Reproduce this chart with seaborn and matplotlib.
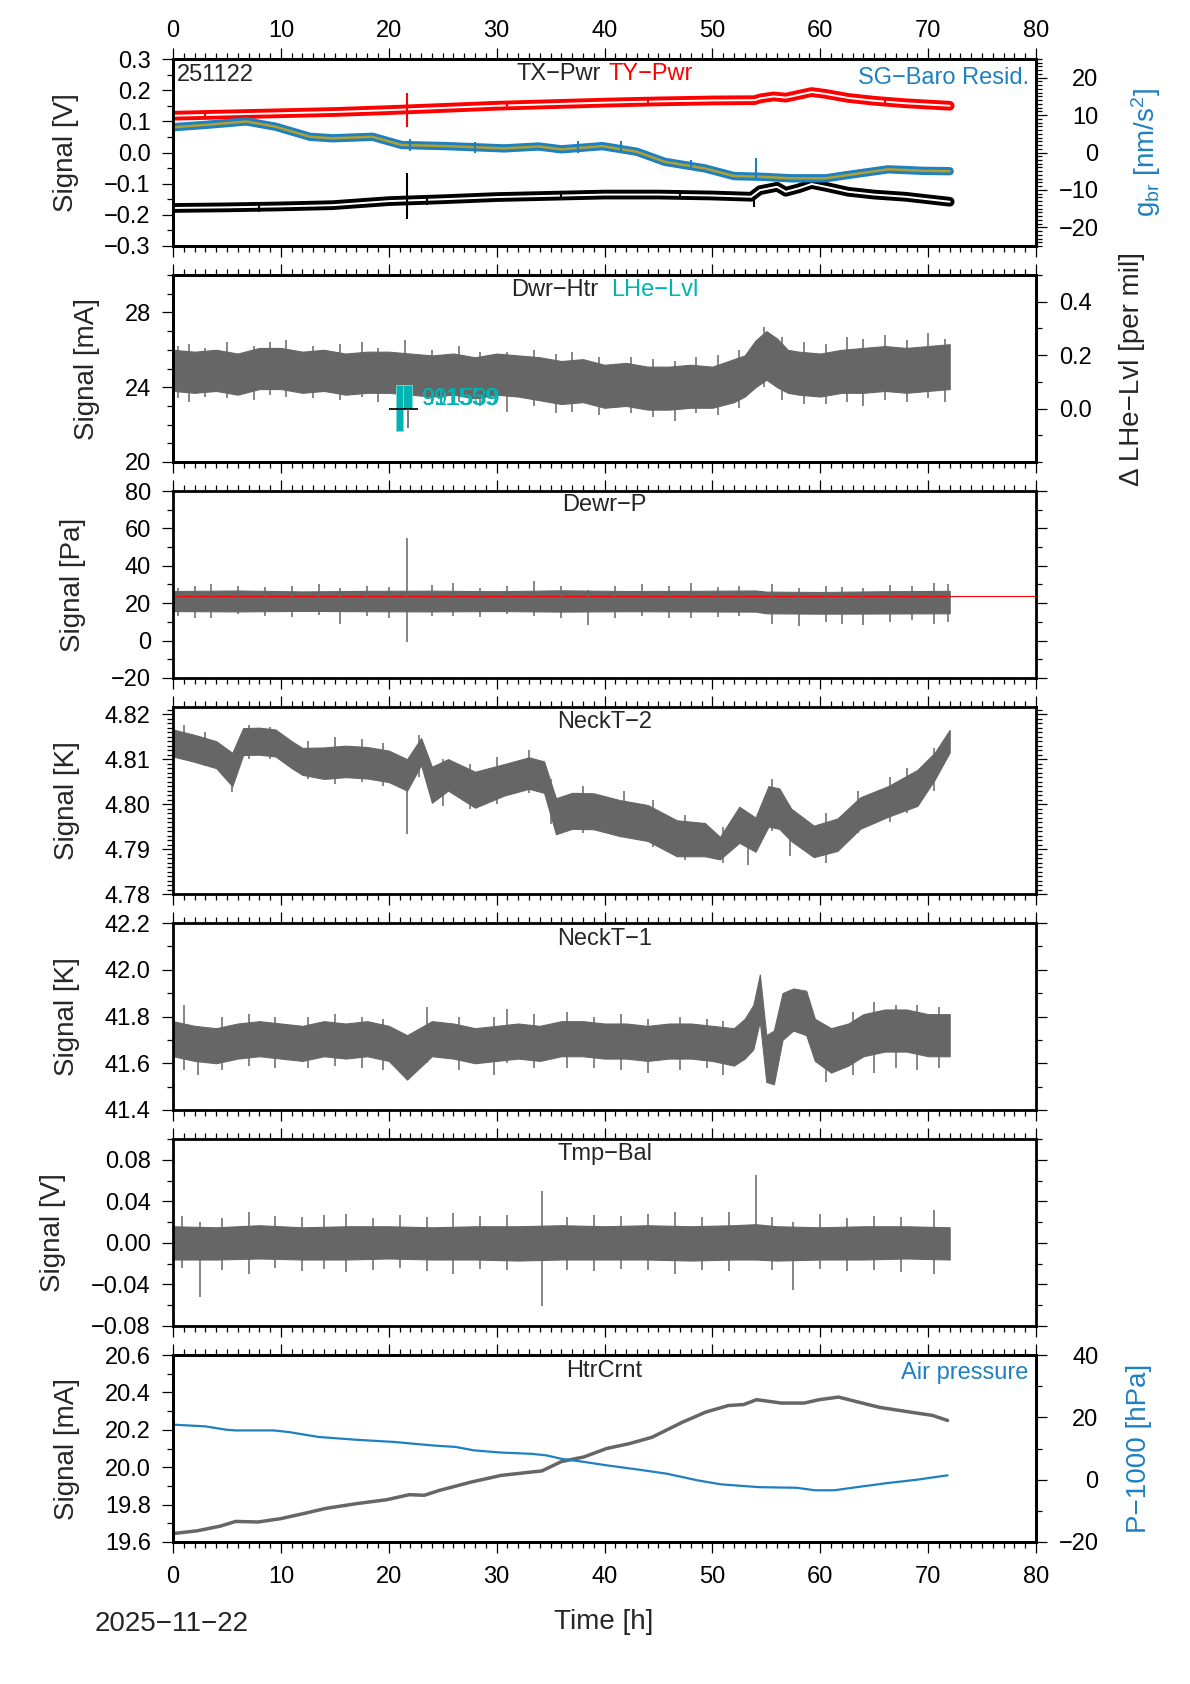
import matplotlib
matplotlib.use("Agg")
import matplotlib.pyplot as plt
import seaborn as sns
from matplotlib.ticker import MultipleLocator, FixedLocator, FuncFormatter

# ---- panel 1: TX/TY power [V] and SG-Baro residual [nm/s^2] ----
tx_t = [0, 5, 10, 14.8, 20, 25, 30, 35, 40, 45, 50, 53.6, 54.4, 56, 56.8, 58, 59.2, 60.5, 62.6, 65, 67.9, 72]
tx_v = [-0.178, -0.176, -0.173, -0.169, -0.156, -0.150, -0.143, -0.139, -0.135, -0.135, -0.138, -0.142,
        -0.121, -0.110, -0.126, -0.115, -0.101, -0.110, -0.126, -0.135, -0.142, -0.158]
ty_t = [0, 5, 10, 15, 20, 25, 30, 35, 40, 45, 50, 53.9, 54.5, 55.7, 56.8, 58, 59.2, 60.5, 62.6, 65, 67.9, 72]
ty_v = [0.118, 0.122, 0.126, 0.130, 0.136, 0.143, 0.150, 0.155, 0.160, 0.164, 0.167, 0.168, 0.174, 0.180,
        0.176, 0.185, 0.194, 0.188, 0.175, 0.166, 0.158, 0.150]
sg_t = [0, 3.1, 6.8, 9.5, 12.7, 14.8, 18.5, 21.2, 25.4, 30.7, 33.9, 36, 39.8, 43, 45.6, 49.3, 52, 54.6,
        57.3, 60.5, 62.6, 66.3, 69.5, 72]
sg_v = [6.75, 7.4, 8.3, 6.9, 4.2, 3.8, 4.2, 2.0, 1.7, 1.1, 1.6, 0.85, 1.7, 0.2, -2.5, -4.25, -6.3, -6.5,
        -6.9, -6.9, -6.0, -4.5, -4.9, -5.0]
tx_spk = [(21.7, -0.212, -0.067), (53.9, -0.175, -0.140), (8.0, -0.190, -0.165), (23.5, -0.168, -0.142),
          (36.0, -0.150, -0.125), (47.0, -0.148, -0.124)]
ty_spk = [(21.7, 0.081, 0.190), (3.0, 0.106, 0.133), (31.0, 0.139, 0.164), (44.0, 0.151, 0.177),
          (66.0, 0.150, 0.176)]
sg_spk = [(54.0, -7.0, -1.6), (37.5, 0.0, 3.2), (41.5, 0.2, 3.0), (22.0, 0.5, 3.5), (48.0, -4.8, -1.9),
          (28.0, 0.0, 2.8)]

# ---- panel 2: Dewar heater [mA], LHe level [per mil] ----
htr2_t = [0, 2, 4, 6, 8, 10, 12, 14, 16, 18, 20, 22, 24, 26, 28, 30, 32, 34, 36, 38, 40, 42, 44, 46, 48,
          50, 52, 53, 54, 55, 56, 57, 58, 60, 62, 64, 66, 68, 70, 72]
htr2_hi = [26.0, 25.9, 26.0, 25.8, 26.1, 26.1, 25.9, 26.0, 25.8, 25.9, 25.9, 25.8, 25.7, 25.8, 25.6, 25.8,
           25.7, 25.6, 25.4, 25.5, 25.2, 25.3, 25.1, 25.1, 25.2, 25.1, 25.5, 25.7, 26.5, 27.0, 26.6, 26.0,
           25.9, 25.8, 26.0, 26.1, 26.2, 26.1, 26.2, 26.3]
htr2_lo = [23.8, 23.7, 23.8, 23.6, 23.9, 23.9, 23.7, 23.8, 23.6, 23.7, 23.7, 23.6, 23.5, 23.6, 23.4, 23.6,
           23.5, 23.3, 23.1, 23.2, 22.9, 23.0, 22.8, 22.8, 22.9, 22.9, 23.2, 23.5, 24.0, 24.4, 24.0, 23.7,
           23.6, 23.5, 23.7, 23.7, 23.8, 23.7, 23.8, 23.9]
htr2_spk = [(0.5, 23.4, 26.2), (1.5, 23.2, 26.3), (3.0, 23.5, 26.1), (5.0, 23.4, 26.4), (7.5, 23.3, 26.2),
            (9.0, 23.6, 26.4), (10.5, 23.5, 26.5), (13.0, 23.4, 26.2), (15.5, 23.3, 26.3), (17.5, 23.5, 26.4),
            (19.0, 23.2, 26.1), (21.5, 23.3, 26.5), (24.0, 23.1, 26.0), (26.5, 23.2, 26.2), (28.5, 23.0, 25.9),
            (31.0, 22.7, 25.9), (33.5, 23.0, 26.0), (35.5, 22.6, 25.8), (37.0, 22.7, 25.9), (39.5, 22.5, 25.6),
            (42.5, 22.6, 25.6), (44.5, 22.4, 25.5), (46.5, 22.2, 25.4), (48.5, 22.6, 25.6), (50.5, 22.5, 25.7),
            (52.5, 22.9, 26.0), (54.8, 24.0, 27.2), (56.5, 23.3, 26.7), (58.5, 23.1, 26.4), (60.5, 23.1, 26.3),
            (62.5, 23.2, 26.7), (64.0, 23.0, 26.6), (66.0, 23.3, 26.8), (68.0, 23.2, 26.5), (70.0, 23.4, 26.9),
            (71.6, 23.2, 26.6)]
lhe_x = [20.98, 21.72]
lhe_w = [0.68, 0.80]
lhe_lo = [-0.085, 0.0]
lhe_hi = [0.09, 0.09]
lhe_labels = ["991539", "911559"]

# ---- panel 3: Dewar pressure [Pa] ----
dp_t = [0, 6, 12, 18, 24, 30, 36, 42, 48, 54, 55, 60, 66, 72]
dp_hi = [26.5, 26.8, 26.3, 26.6, 26.7, 26.4, 26.9, 26.5, 26.6, 26.8, 26.2, 26.0, 26.4, 26.6]
dp_lo = [15.8, 15.6, 15.9, 15.7, 15.6, 15.8, 15.5, 15.7, 15.6, 15.5, 14.6, 14.4, 14.5, 14.6]
dp_spk = [(0.5, 13, 28), (2.0, 12, 29), (3.5, 12, 30), (6.0, 14, 29), (8.5, 13, 28.5), (11.0, 12.5, 29),
          (13.5, 13.5, 30), (15.5, 9, 28), (18.0, 13, 29), (20.0, 12, 28.5), (21.7, -1, 55), (24.0, 13, 29.5),
          (26.0, 13, 31), (28.5, 12.5, 28), (31.0, 14, 29), (33.5, 13, 32), (36.0, 12, 29), (38.5, 8.5, 27),
          (41.0, 12, 29), (43.5, 13, 30), (46.0, 12, 29), (48.0, 12, 31), (50.5, 12.5, 28.5), (52.5, 13, 29),
          (55.5, 9, 30), (58.0, 8, 28), (60.5, 10, 29), (62.0, 9, 28.5), (64.0, 8.5, 28), (66.5, 10, 29.5),
          (68.5, 11, 29), (70.5, 9, 31), (71.8, 10, 30)]
dp_set_t = [0, 80]
dp_set_v = [23.6, 23.6]

# ---- panel 4: neck temperature 2 [K] ----
nk2_t = [0, 2, 4, 5.5, 6.5, 8, 9.5, 11, 12, 14, 16, 18, 20, 21.7, 23, 24, 25.5, 28, 30.7, 33, 34.4, 35.5,
         37, 39, 41.4, 44, 46.7, 49.3, 50.7, 52.5, 54, 55.2, 56.2, 57.3, 59.4, 61.6, 63.7, 66.3, 69, 70.6, 72]
nk2_hi = [4.8166, 4.8154, 4.8140, 4.8114, 4.8169, 4.8170, 4.8166, 4.8140, 4.8125, 4.8126, 4.8130, 4.8127,
          4.8119, 4.8100, 4.8147, 4.8083, 4.8100, 4.8072, 4.8089, 4.8104, 4.8095, 4.8013, 4.8025, 4.8024,
          4.8009, 4.7998, 4.7964, 4.7958, 4.7927, 4.7994, 4.7970, 4.8040, 4.8035, 4.7990, 4.7952, 4.7968,
          4.8015, 4.8040, 4.8076, 4.8114, 4.8165]
nk2_lo = [4.8106, 4.8094, 4.8080, 4.8040, 4.8109, 4.8110, 4.8106, 4.8080, 4.8065, 4.8056, 4.8060, 4.8057,
          4.8049, 4.8030, 4.8087, 4.8003, 4.8030, 4.7992, 4.8019, 4.8034, 4.8025, 4.7933, 4.7945, 4.7944,
          4.7929, 4.7918, 4.7884, 4.7884, 4.7877, 4.7914, 4.7894, 4.7950, 4.7945, 4.7918, 4.7882, 4.7896,
          4.7945, 4.7972, 4.7996, 4.8054, 4.8115]
nk2_spk = [(1.0, 4.8100, 4.8175), (3.0, 4.8085, 4.8160), (5.5, 4.8028, 4.8110), (7.0, 4.8100, 4.8175),
           (9.0, 4.8100, 4.8172), (12.5, 4.8055, 4.8140), (15.0, 4.8045, 4.8150), (17.5, 4.8050, 4.8145),
           (19.5, 4.8040, 4.8135), (21.7, 4.7934, 4.8070), (22.8, 4.8060, 4.8153), (25.0, 4.7995, 4.8100),
           (27.5, 4.7990, 4.8090), (30.0, 4.8000, 4.8105), (33.0, 4.8025, 4.8120), (35.0, 4.7955, 4.8055),
           (38.0, 4.7935, 4.8040), (41.8, 4.7930, 4.8030), (44.5, 4.7905, 4.8010), (47.5, 4.7875, 4.7975),
           (51.0, 4.7870, 4.7950), (53.3, 4.7865, 4.7960), (55.5, 4.7940, 4.8055), (57.2, 4.7885, 4.7995),
           (60.5, 4.7870, 4.7980), (63.5, 4.7935, 4.8030), (66.5, 4.7960, 4.8060), (68.0, 4.7980, 4.8080),
           (70.5, 4.8030, 4.8125)]

# ---- panel 5: neck temperature 1 [K] ----
nk1_t = [0, 2, 4, 6, 8, 10, 12, 14, 16, 18, 20, 21.7, 24, 26, 28, 30, 32, 34, 36, 38, 40, 42, 44, 46, 48,
         50, 52, 53, 53.8, 54.4, 55, 55.7, 56.5, 57.5, 58.7, 59.5, 61, 62.6, 64, 66, 68, 70, 72]
nk1_hi = [41.78, 41.76, 41.75, 41.77, 41.78, 41.77, 41.76, 41.78, 41.77, 41.78, 41.76, 41.72, 41.78, 41.77,
          41.75, 41.76, 41.77, 41.76, 41.78, 41.78, 41.77, 41.77, 41.76, 41.77, 41.77, 41.76, 41.75, 41.79,
          41.85, 41.98, 41.72, 41.74, 41.90, 41.92, 41.91, 41.79, 41.75, 41.77, 41.81, 41.83, 41.83, 41.81,
          41.81]
nk1_lo = [41.63, 41.61, 41.60, 41.62, 41.63, 41.62, 41.61, 41.63, 41.62, 41.63, 41.61, 41.53, 41.63, 41.62,
          41.60, 41.61, 41.62, 41.61, 41.63, 41.63, 41.62, 41.62, 41.61, 41.62, 41.62, 41.61, 41.59, 41.62,
          41.66, 41.78, 41.52, 41.51, 41.70, 41.74, 41.72, 41.61, 41.56, 41.59, 41.63, 41.65, 41.65, 41.63,
          41.63]
nk1_spk = [(1.0, 41.57, 41.85), (2.3, 41.55, 41.76), (4.5, 41.57, 41.80), (7.0, 41.59, 41.81),
           (9.5, 41.58, 41.80), (12.5, 41.58, 41.80), (15.0, 41.59, 41.81), (17.5, 41.58, 41.80),
           (19.5, 41.57, 41.79), (23.5, 41.60, 41.84), (26.5, 41.57, 41.80), (29.8, 41.55, 41.80),
           (31.0, 41.60, 41.83), (33.5, 41.58, 41.81), (36.5, 41.58, 41.82), (39.0, 41.58, 41.80),
           (41.5, 41.57, 41.81), (44.0, 41.56, 41.79), (47.0, 41.57, 41.80), (49.5, 41.58, 41.79),
           (51.0, 41.55, 41.78), (60.5, 41.52, 41.72), (63.0, 41.55, 41.82), (65.0, 41.56, 41.86),
           (67.0, 41.58, 41.85), (69.0, 41.57, 41.85), (71.0, 41.58, 41.84)]

# ---- panel 6: balance temperature [V] ----
tb_t = [0, 4, 8, 12, 16, 20, 24, 28, 32, 36, 40, 44, 48, 52, 54, 56, 60, 64, 68, 72]
tb_hi = [0.016, 0.015, 0.017, 0.015, 0.016, 0.016, 0.015, 0.016, 0.016, 0.017, 0.016, 0.017, 0.016, 0.017,
         0.018, 0.016, 0.015, 0.016, 0.016, 0.015]
tb_lo = [-0.016, -0.016, -0.015, -0.016, -0.016, -0.015, -0.016, -0.016, -0.017, -0.016, -0.016, -0.016,
         -0.017, -0.016, -0.016, -0.017, -0.016, -0.016, -0.015, -0.016]
tb_spk = [(0.8, -0.024, 0.026), (2.5, -0.052, 0.020), (4.5, -0.026, 0.024), (7.0, -0.030, 0.030),
          (9.5, -0.024, 0.026), (12.0, -0.027, 0.025), (14.0, -0.025, 0.027), (16.0, -0.028, 0.028),
          (18.5, -0.026, 0.024), (21.0, -0.024, 0.027), (23.5, -0.027, 0.025), (26.0, -0.030, 0.029),
          (28.5, -0.025, 0.026), (31.0, -0.026, 0.027), (34.2, -0.061, 0.050), (36.5, -0.026, 0.025),
          (39.0, -0.027, 0.027), (41.5, -0.025, 0.026), (44.0, -0.026, 0.028), (46.5, -0.030, 0.030),
          (49.0, -0.026, 0.025), (51.5, -0.027, 0.030), (54.0, -0.012, 0.065), (55.5, -0.026, 0.025),
          (57.5, -0.045, 0.020), (60.0, -0.025, 0.028), (62.5, -0.027, 0.024), (65.0, -0.026, 0.026),
          (67.5, -0.028, 0.025), (70.5, -0.030, 0.032)]

# ---- panel 7: heater current [mA], air pressure [hPa] ----
hc_t = [0, 2.25, 4.4, 5.8, 7.9, 10, 12.1, 14.2, 17, 19.8, 21.9, 23.3, 24.7, 27.6, 30.4, 33.2, 34.2, 36,
        38.1, 40.2, 42.3, 44.4, 47.2, 49.4, 51.5, 52.9, 54.1, 56.4, 58.5, 59.9, 61.7, 63.4, 65.5, 68.3,
        70.4, 71.8]
hc_v = [19.645, 19.66, 19.685, 19.71, 19.707, 19.725, 19.752, 19.78, 19.805, 19.826, 19.853, 19.85,
        19.876, 19.92, 19.956, 19.974, 19.98, 20.03, 20.055, 20.10, 20.126, 20.16, 20.24, 20.295, 20.33,
        20.335, 20.361, 20.343, 20.343, 20.361, 20.375, 20.35, 20.32, 20.295, 20.277, 20.25]
ap_t = [0, 3, 5, 5.8, 9.3, 10.7, 13.5, 17, 20.5, 24, 26.2, 27.9, 30.4, 33.2, 34.6, 36, 38.1, 40.2, 43,
        45.8, 48.6, 50.8, 54.3, 57.8, 59.5, 61.3, 63.4, 66.2, 69, 71.8]
ap_v = [17.65, 17.1, 16.0, 15.8, 15.8, 15.3, 13.7, 12.8, 12.1, 11.0, 10.5, 9.4, 8.7, 8.3, 7.8, 6.7, 5.7,
        4.6, 3.3, 1.9, -0.2, -1.5, -2.4, -2.6, -3.4, -3.4, -2.4, -1.1, 0.0, 1.4]

GREY = "#666666"
RED = "#ff0000"
BLUE = "#1f80c0"
OLIVE = "#b0a030"
TEAL = "#00b4b4"

sns.set_theme(style="ticks")
plt.rcParams["font.family"] = ["Liberation Sans", "DejaVu Sans"]
plt.rcParams["mathtext.fontset"] = "custom"
plt.rcParams["mathtext.rm"] = "Liberation Sans"
plt.rcParams["mathtext.it"] = "Liberation Sans:italic"
plt.rcParams["axes.unicode_minus"] = True

W, H = 1190, 1684
fig = plt.figure(figsize=(W / 100, H / 100), dpi=100)
fig.patch.set_facecolor("white")


def fmt(nd):
    def f(v, pos):
        s = f"{v:.{nd}f}"
        if float(s) == 0:
            s = f"{0:.{nd}f}"
        return s.replace("-", "\u2212")
    return FuncFormatter(f)


def panel(i):
    top = 59 + 216 * i
    return fig.add_axes([173 / W, 1 - (top + 187) / H, 863 / W, 187 / H])


def style(ax, ylim, major, minor, nd, mirror=True):
    ax.set_xlim(0, 80)
    ax.set_ylim(*ylim)
    ax.set_facecolor("white")
    ax.grid(False)
    ax.xaxis.set_major_locator(MultipleLocator(10))
    ax.xaxis.set_minor_locator(MultipleLocator(1))
    ax.yaxis.set_major_locator(MultipleLocator(major))
    ax.yaxis.set_minor_locator(MultipleLocator(minor))
    ax.yaxis.set_major_formatter(fmt(nd))
    ax.xaxis.set_major_formatter(fmt(0))
    ax.tick_params(which="both", direction="out", top=True, bottom=True, left=True, right=mirror,
                   labelbottom=False, labeltop=False, labelleft=True, labelright=False,
                   labelsize=17, width=0.9, color="black", labelcolor="black")
    ax.tick_params(axis="y", pad=8)
    ax.tick_params(which="major", length=8)
    ax.tick_params(which="minor", length=4)
    for s in ax.spines.values():
        s.set_visible(True)
        s.set_linewidth(2)
        s.set_color("black")
    ax.set_xlabel("")


def style_twin(tw, ylim, major, minor, nd, pad):
    tw.set_ylim(*ylim)
    if isinstance(major, list):
        tw.yaxis.set_major_locator(FixedLocator(major))
    else:
        tw.yaxis.set_major_locator(MultipleLocator(major))
    tw.yaxis.set_minor_locator(MultipleLocator(minor))
    tw.yaxis.set_major_formatter(fmt(nd))
    tw.tick_params(axis="y", which="both", direction="out", left=False, right=True, labelleft=False,
                   labelright=True, labelsize=17, width=0.9, color="black", labelcolor="black", pad=pad)
    tw.tick_params(axis="y", which="major", length=8)
    tw.tick_params(axis="y", which="minor", length=4)
    for s in tw.spines.values():
        s.set_linewidth(2)
        s.set_color("black")
    for t in tw.yaxis.get_major_ticks():
        t.label2.set_horizontalalignment("right")


def spikes(ax, spk, color, lw=1.1):
    ax.vlines([s[0] for s in spk], [s[1] for s in spk], [s[2] for s in spk], color=color, lw=lw)


def title(ax, txt, dy):
    ax.text(0.5, 1 - dy / 187, txt, transform=ax.transAxes, ha="center", va="center", fontsize=17)


# ---------------- panel 1 ----------------
ax1 = panel(0)
sns.lineplot(x=ty_t, y=ty_v, ax=ax1, color=RED, lw=7, estimator=None, sort=False)
sns.lineplot(x=ty_t, y=ty_v, ax=ax1, color="white", lw=1.4, estimator=None, sort=False)
sns.lineplot(x=tx_t, y=tx_v, ax=ax1, color="black", lw=7, estimator=None, sort=False)
sns.lineplot(x=tx_t, y=tx_v, ax=ax1, color="white", lw=1.4, estimator=None, sort=False)
spikes(ax1, tx_spk, "black", 1.5)
spikes(ax1, ty_spk, RED, 1.5)
style(ax1, (-0.3, 0.3), 0.1, 0.05, 1, mirror=False)
ax1.tick_params(axis="x", labeltop=True, pad=4)
ax1.set_ylabel("Signal [V]", fontsize=20, labelpad=18)
tw1 = ax1.twinx()
sns.lineplot(x=sg_t, y=sg_v, ax=tw1, color=BLUE, lw=6, estimator=None, sort=False)
sns.lineplot(x=sg_t, y=sg_v, ax=tw1, color=OLIVE, lw=1.8, estimator=None, sort=False)
spikes(tw1, sg_spk, BLUE, 1.5)
style_twin(tw1, (-25, 25), 10, 1, 0, 37)
tw1.set_ylabel(r"g$_{\mathrm{br}}$ [nm/s$^{2}$]", fontsize=20, color=BLUE, labelpad=22)
ax1.text(4 / 863, 1 - 16 / 187, "251122", transform=ax1.transAxes, ha="left", va="center", fontsize=17)
ax1.text(0.496, 1 - 15 / 187, "TX\u2212Pwr", transform=ax1.transAxes, ha="right", va="center", fontsize=17)
ax1.text(0.505, 1 - 15 / 187, "TY\u2212Pwr", transform=ax1.transAxes, ha="left", va="center",
         fontsize=17, color=RED)
ax1.text(0.992, 1 - 19 / 187, "SG\u2212Baro Resid.", transform=ax1.transAxes, ha="right", va="center",
         fontsize=17, color=BLUE)

# ---------------- panel 2 ----------------
ax2 = panel(1)
ax2.fill_between(htr2_t, htr2_lo, htr2_hi, color=GREY, lw=0.8)
spikes(ax2, htr2_spk, GREY)
style(ax2, (20, 30), 4, 1, 0, mirror=False)
ax2.set_ylabel("Signal [mA]", fontsize=20, labelpad=18)
tw2 = ax2.twinx()
tw2.bar(lhe_x, [h - l for h, l in zip(lhe_hi, lhe_lo)], bottom=lhe_lo, width=lhe_w, color=TEAL,
        edgecolor="#7fd9d9", lw=0.6)
tw2.hlines(0.0, 20.02, 22.71, color="black", lw=1.2)
tw2.vlines(21.76, -0.071, 0.0, color=GREY, lw=1.2)
for lab in lhe_labels:
    tw2.text(23.05, 0.035, lab, color=TEAL, fontsize=17, va="center", ha="left")
style_twin(tw2, (-0.2, 0.5), [0.0, 0.2, 0.4], 0.1, 1, 32)
tw2.set_ylabel("\u0394 LHe\u2212Lvl [per mil]", fontsize=20, labelpad=20)
ax2.text(0.4925, 1 - 15 / 187, "Dwr\u2212Htr", transform=ax2.transAxes, ha="right", va="center", fontsize=17)
ax2.text(0.5075, 1 - 15 / 187, "LHe\u2212Lvl", transform=ax2.transAxes, ha="left", va="center",
         fontsize=17, color=TEAL)

# ---------------- panel 3 ----------------
ax3 = panel(2)
sns.lineplot(x=dp_set_t, y=dp_set_v, ax=ax3, color=RED, lw=0.8, estimator=None, sort=False)
ax3.fill_between(dp_t, dp_lo, dp_hi, color=GREY, lw=0.8)
spikes(ax3, dp_spk, GREY)
style(ax3, (-20, 80), 20, 10, 0)
ax3.set_ylabel("Signal [Pa]", fontsize=20, labelpad=18)
title(ax3, "Dewr\u2212P", 14)

# ---------------- panel 4 ----------------
ax4 = panel(3)
ax4.fill_between(nk2_t, nk2_lo, nk2_hi, color=GREY, lw=0.8)
spikes(ax4, nk2_spk, GREY)
style(ax4, (4.78, 4.8216), 0.01, 0.001, 2)
ax4.set_ylabel("Signal [K]", fontsize=20, labelpad=18)
title(ax4, "NeckT\u22122", 15)

# ---------------- panel 5 ----------------
ax5 = panel(4)
ax5.fill_between(nk1_t, nk1_lo, nk1_hi, color=GREY, lw=0.8)
spikes(ax5, nk1_spk, GREY)
style(ax5, (41.4, 42.2), 0.2, 0.1, 1)
ax5.set_ylabel("Signal [K]", fontsize=20, labelpad=18)
title(ax5, "NeckT\u22121", 16)

# ---------------- panel 6 ----------------
ax6 = panel(5)
ax6.fill_between(tb_t, tb_lo, tb_hi, color=GREY, lw=0.8)
spikes(ax6, tb_spk, GREY)
style(ax6, (-0.08, 0.1), 0.04, 0.02, 2)
ax6.set_ylabel("Signal [V]", fontsize=20, labelpad=18)
title(ax6, "Tmp\u2212Bal", 15)

# ---------------- panel 7 ----------------
ax7 = panel(6)
sns.lineplot(x=hc_t, y=hc_v, ax=ax7, color=GREY, lw=2.5, estimator=None, sort=False)
style(ax7, (19.6, 20.6), 0.2, 0.1, 1, mirror=False)
ax7.tick_params(axis="x", labelbottom=True, pad=9)
ax7.set_ylabel("Signal [mA]", fontsize=20, labelpad=18)
tw7 = ax7.twinx()
sns.lineplot(x=ap_t, y=ap_v, ax=tw7, color=BLUE, lw=1.6, estimator=None, sort=False)
style_twin(tw7, (-20, 40), 20, 10, 0, 37)
tw7.set_ylabel("P\u22121000 [hPa]", fontsize=20, color=BLUE, labelpad=20)
title(ax7, "HtrCrnt", 16)
ax7.text(0.991, 1 - 18 / 187, "Air pressure", transform=ax7.transAxes, ha="right", va="center",
         fontsize=17, color=BLUE)

for a in (ax1, ax2, ax3, ax4, ax5, ax6, ax7):
    a.set_xlim(0, 80)
    a.set_xlabel("")

fig.text(604 / W, 1 - 1622 / H, "Time [h]", ha="center", va="center", fontsize=20)
fig.text(95 / W, 1 - 1624 / H, "2025\u221211\u221222", ha="left", va="center", fontsize=20)

fig.savefig("out.png", dpi=100)
